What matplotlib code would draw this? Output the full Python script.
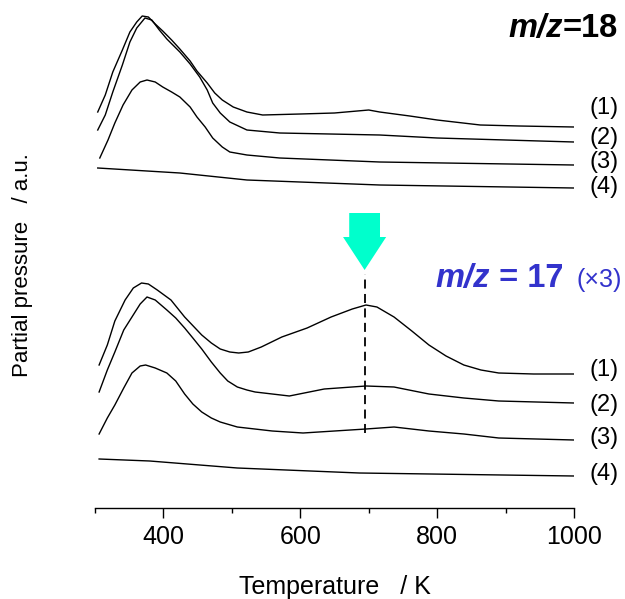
import matplotlib
matplotlib.use("Agg")
import matplotlib.pyplot as plt
from matplotlib.patches import FancyArrow
from matplotlib.ticker import MultipleLocator

plt.rcParams['font.family'] = ['Liberation Sans', 'DejaVu Sans']

# --- data (temperature in K, partial pressure in a.u., stacked) ---
# m/z = 18
t18_1 = [304, 315, 326, 340, 351, 361, 369, 378, 388, 399, 412, 424, 439, 449, 464, 475, 486,
         502, 522, 545, 600, 650, 700, 716, 760, 800, 863, 920, 1000]
p18_1 = [396, 413, 436, 458, 476, 486, 492, 491, 484, 477, 468, 459, 447, 437, 425, 415, 408,
         401, 396, 393, 394, 395, 398, 396, 392, 388, 383, 382, 381]

t18_2 = [304, 315, 326, 340, 351, 361, 373, 383, 394, 405, 424, 439, 453, 464, 472, 483, 497,
         522, 570, 716, 800, 900, 1000]
p18_2 = [378, 393, 416, 443, 466, 480, 490, 488, 478, 469, 456, 444, 431, 418, 405, 395, 386,
         378, 375, 373, 370, 368, 366]

t18_3 = [307, 319, 329, 341, 354, 366, 376, 388, 399, 412, 424, 439, 449, 461, 472, 486, 497,
         522, 570, 716, 1000]
p18_3 = [350, 368, 385, 403, 418, 426, 428, 426, 421, 416, 411, 401, 391, 381, 370, 361, 356,
         353, 350, 346, 343]

t18_4 = [304, 424, 522, 716, 1000]
p18_4 = [340, 335, 328, 323, 320]

# m/z = 17 (x3)
t17_1 = [306, 318, 329, 344, 356, 368, 378, 391, 411, 431, 456, 470, 483, 497, 510, 524, 543,
         573, 610, 645, 676, 696, 712, 737, 763, 788, 813, 839, 864, 890, 941, 1000]
p17_1 = [143, 163, 187, 208, 220, 225, 224, 218, 208, 191, 173, 165, 159, 156, 155, 156, 161,
         171, 180, 191, 199, 203, 201, 191, 177, 163, 152, 143, 138, 135, 134, 134]

t17_2 = [306, 318, 329, 342, 354, 366, 376, 388, 405, 418, 431, 443, 456, 470, 483, 494, 508,
         522, 534, 584, 635, 696, 737, 788, 839, 890, 1000]
p17_2 = [116, 138, 156, 178, 191, 204, 211, 208, 198, 190, 180, 170, 159, 146, 135, 127, 121,
         118, 116, 112, 119, 122, 121, 114, 110, 107, 105]

t17_3 = [306, 318, 329, 342, 354, 366, 374, 388, 405, 418, 431, 443, 456, 470, 483, 508, 559,
         604, 696, 737, 788, 839, 890, 1000]
p17_3 = [74, 90, 103, 120, 135, 142, 143, 140, 135, 127, 114, 104, 96, 90, 86, 81, 77,
         75, 79, 81, 77, 74, 70, 68]

t17_4 = [306, 380, 508, 686, 1000]
p17_4 = [49, 47, 40, 35, 32]

trace_labels = ['(1)', '(2)', '(3)', '(4)']
label_y18 = [400, 370, 346, 321]
label_y17 = [138, 103, 70, 34]
peak_T = 694

fig = plt.figure(figsize=(6.25, 5.99), dpi=100)
ax = fig.add_axes([95 / 625, 91 / 599, 479 / 625, 508 / 599])

for t, p in [(t18_1, p18_1), (t18_2, p18_2), (t18_3, p18_3), (t18_4, p18_4),
             (t17_1, p17_1), (t17_2, p17_2), (t17_3, p17_3), (t17_4, p17_4)]:
    ax.plot(t, p, color='black', lw=1.0)

for lab, y in zip(trace_labels, label_y18):
    ax.text(1044, y, lab, ha='center', va='center', fontsize=17)
for lab, y in zip(trace_labels, label_y17):
    ax.text(1044, y, lab, ha='center', va='center', fontsize=17)

# peak marker: dashed line + arrow
ax.plot([peak_T, peak_T], [75, 234], color='black', lw=1.3, ls=(0, (5, 3)))
ax.add_patch(FancyArrow(peak_T, 295, 0, -57, width=45, head_width=63, head_length=33,
                        length_includes_head=True, color='#00FFCC', lw=0))

# titles for the two mass signals
t_a = ax.text(1064, 471, '=18', ha='right', va='baseline', fontsize=23.5, fontweight='bold')
ax.annotate('m/z', xy=(0, 0), xycoords=t_a, ha='right', va='bottom',
            fontsize=23.5, fontweight='bold', fontstyle='italic')

blue = '#3333CC'
t_b = ax.text(798, 221, 'm/z', ha='left', va='baseline', fontsize=23.5, fontweight='bold',
              fontstyle='italic', color=blue)
ax.annotate(' = 17', xy=(1, 0), xycoords=t_b, ha='left', va='bottom',
            fontsize=23.5, fontweight='bold', color=blue)
ax.text(1004, 221, '(×3)', ha='left', va='baseline', fontsize=18, color=blue)

ax.set_xlim(300, 1000)
ax.set_ylim(0, 508)
ax.xaxis.set_major_locator(MultipleLocator(200))
ax.xaxis.set_minor_locator(MultipleLocator(100))
ax.tick_params(axis='x', which='major', direction='out', length=7.2, width=1, labelsize=18, pad=5)
ax.tick_params(axis='x', which='minor', direction='out', length=3.6, width=1)
ax.set_yticks([])
for s in ['left', 'right', 'top']:
    ax.spines[s].set_visible(False)
ax.spines['bottom'].set_linewidth(1)

ax.set_xlabel('Temperature   / K', fontsize=18, labelpad=19)
fig.text(23 / 625, (599 - 377) / 599, 'Partial pressure   / a.u.', rotation=90,
         ha='center', va='bottom', fontsize=16)

fig.savefig('out.png', dpi=100)
